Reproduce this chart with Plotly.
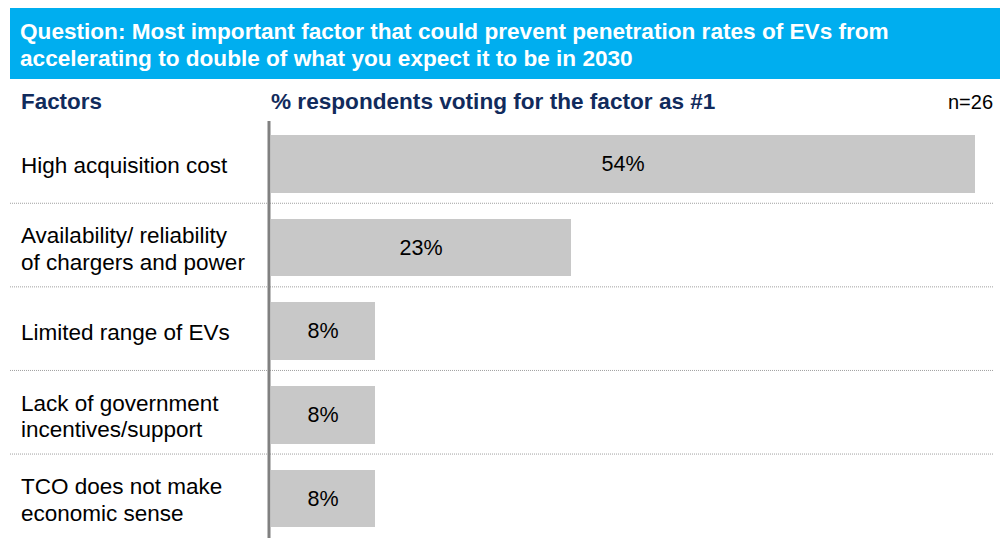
import plotly.graph_objects as go

categories = [
    "High acquisition cost",
    "Availability/ reliability<br>of chargers and power",
    "Limited range of EVs",
    "Lack of government<br>incentives/support",
    "TCO does not make<br>economic sense",
]
values = [54, 23, 8, 8, 8]
value_labels = ["54%", "23%", "8%", "8%", "8%"]

title_lines = [
    "Question: Most important factor that could prevent penetration rates of EVs from",
    "accelerating to double of what you expect it to be in 2030",
]
col_left = "Factors"
col_right = "% respondents voting for the factor as #1"
sample_note = "n=26"

W, H = 1000, 538
L, T, R, B = 271, 122, 0, 0
PW, PH = W - L - R, H - T - B
FONT = "Arial, Liberation Sans, sans-serif"
DARK = "#112B5C"
ROW = 83.6


def px(x):
    return (x - L) / PW


def py(y):
    return (H - B - y) / PH


fig = go.Figure()
fig.add_trace(go.Bar(
    x=values, y=list(range(len(categories))), orientation="h",
    marker=dict(color="#C8C8C8", line=dict(width=0)),
    width=0.69,
    text=value_labels, textposition="inside", insidetextanchor="middle",
    textfont=dict(family=FONT, size=21.5, color="#000000"),
    hoverinfo="skip",
))

shapes = []
# header box
shapes.append(dict(type="rect", xref="paper", yref="paper",
                   x0=px(10), x1=px(1000), y0=py(79), y1=py(8),
                   fillcolor="#00AEEF", line=dict(width=0), layer="below"))
# dotted separators
for i in range(len(categories) - 1):
    shapes.append(dict(type="line", xref="paper", yref="y",
                       x0=px(10), x1=px(994), y0=i + 0.47, y1=i + 0.47,
                       line=dict(color="#A0A0A0", width=1, dash="1px,1px")))
# vertical axis line
shapes.append(dict(type="line", xref="paper", yref="paper",
                   x0=px(269), x1=px(269), y0=0, y1=py(121),
                   line=dict(color="#808080", width=3)))

annotations = []
for k, line in enumerate(title_lines):
    annotations.append(dict(text="<b>" + line + "</b>", xref="paper", yref="paper",
                            x=px(18), y=py(31 + 28 * k), xanchor="left", yanchor="middle",
                            showarrow=False, font=dict(family=FONT, size=22.6, color="#FFFFFF")))
annotations.append(dict(text="<b>" + col_left + "</b>", xref="paper", yref="paper",
                        x=px(19), y=py(102), xanchor="left", yanchor="middle",
                        showarrow=False, font=dict(family=FONT, size=22.4, color=DARK)))
annotations.append(dict(text="<b>" + col_right + "</b>", xref="paper", yref="paper",
                        x=px(269), y=py(102), xanchor="left", yanchor="middle",
                        showarrow=False, font=dict(family=FONT, size=22.6, color=DARK)))
annotations.append(dict(text=sample_note, xref="paper", yref="paper",
                        x=px(995), y=py(102), xanchor="right", yanchor="middle",
                        showarrow=False, font=dict(family=FONT, size=20, color="#000000")))
LINE_GAP = 26.5 / ROW
for i, c in enumerate(categories):
    parts = c.split("<br>")
    n = len(parts)
    for j, part in enumerate(parts):
        yc = i + 0.02 + (j - (n - 1) / 2) * LINE_GAP
        annotations.append(dict(text=part, xref="paper", yref="y",
                                x=px(19), y=yc, xanchor="left", yanchor="middle", align="left",
                                showarrow=False, font=dict(family=FONT, size=22.5, color="#000000")))

ppu = 704 / 54.0
fig.update_layout(
    width=W, height=H,
    margin=dict(l=L, r=R, t=T, b=B, pad=0),
    paper_bgcolor="white", plot_bgcolor="white",
    showlegend=False,
    bargap=0,
    xaxis=dict(range=[0, PW / ppu], visible=False, fixedrange=True),
    yaxis=dict(range=[-0.502 + PH / ROW, -0.502], visible=False, fixedrange=True),
    shapes=shapes,
    annotations=annotations,
    font=dict(family=FONT),
)

fig.write_html("out.html", config={"displayModeBar": False})
